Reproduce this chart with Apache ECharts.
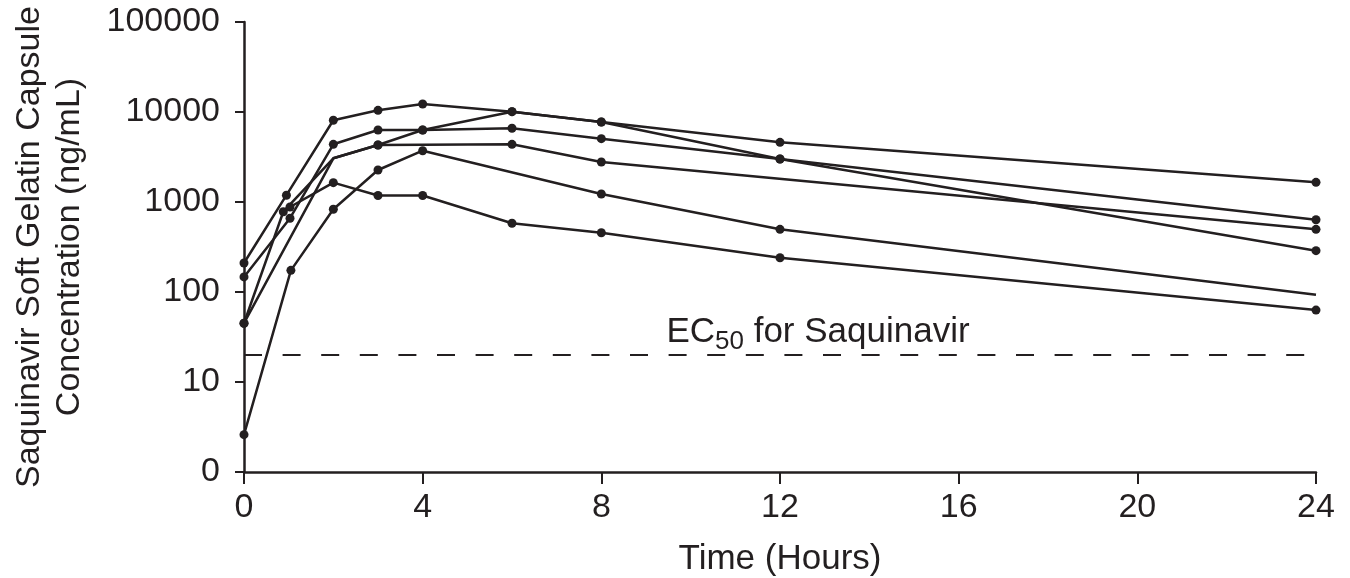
<!DOCTYPE html>
<html>
<head>
<meta charset="utf-8">
<script src="https://cdn.jsdelivr.net/npm/echarts@6/dist/echarts.min.js"></script>
<style>
  html, body { margin: 0; padding: 0; background: #fff; }
  #chart_main { width: 1350px; height: 578px; }
</style>
</head>
<body>
<div id="chart_main"></div>
<script>
// sampling times (hours) and concentrations (ng/mL) per subject
let subjA_t = [0, 0.95, 2, 3, 4, 6, 8, 12, 24];
let subjA_c = [210, 1190, 8090, 10440, 12270, 10080, 7740, 4605, 1655];
let subjB_t = [0, 2, 3, 4, 6, 8, 12, 24];
let subjB_c = [45, 3060, 4300, 6310, 10080, 7740, 3005, 288];
let subjC_t = [0, 1.03, 2, 3, 4, 6, 8, 12, 24];
let subjC_c = [147, 660, 4375, 6310, 6310, 6590, 5055, 3005, 635];
let subjD_t = [0, 0.88, 2, 3, 6, 8, 24];
let subjD_c = [45, 780, 3060, 4300, 4375, 2783, 497];
let subjE_t = [0, 1.05, 2, 3, 4, 8, 12, 24];
let subjE_c = [2.6, 174, 830, 2268, 3715, 1227, 497, 93];
let subjF_t = [1.03, 2, 3, 4, 6, 8, 12, 24];
let subjF_c = [880, 1640, 1180, 1180, 580, 456, 240, 63];

// points drawn as line corners only (no dot)
let hideB = [1];
let hideD = [2];
let hideE = [7];

let ec50 = 20;
let xTicks = [0, 4, 8, 12, 16, 20, 24];

let ink = '#231f20';
let font = 'Liberation Sans, Arial, sans-serif';

function makeSerie(name, t, c, hide) {
  let pts = [];
  for (let i = 0; i < t.length; i++) {
    let item = { value: [t[i], c[i]] };
    if (hide && hide.indexOf(i) > -1) {
      item.symbol = 'none';
    }
    pts.push(item);
  }
  return {
    name: name,
    type: 'line',
    data: pts,
    symbol: 'circle',
    symbolSize: 9,
    showAllSymbol: true,
    lineStyle: { color: ink, width: 2.5 },
    itemStyle: { color: ink },
    z: 3
  };
}

let series = [
  makeSerie('A', subjA_t, subjA_c),
  makeSerie('B', subjB_t, subjB_c, hideB),
  makeSerie('C', subjC_t, subjC_c),
  makeSerie('D', subjD_t, subjD_c, hideD),
  makeSerie('E', subjE_t, subjE_c, hideE),
  makeSerie('F', subjF_t, subjF_c)
];

// EC50 reference line
series.push({
  name: 'EC50',
  type: 'line',
  data: [],
  markLine: {
    silent: true,
    symbol: 'none',
    lineStyle: { color: ink, width: 2, type: [18, 20.6] },
    label: {
      show: true,
      position: 'insideMiddleTop',
      distance: 0,
      formatter: '{m|EC}{s|50}{m| for Saquinavir}',
      rich: {
        m: { fontSize: 35, color: ink, fontFamily: font },
        s: { fontSize: 26, color: ink, fontFamily: font, verticalAlign: 'bottom', padding: [20, 0, 0, 0] }
      },
      offset: [38, 0]
    },
    data: [[{ coord: [xTicks[0], ec50] }, { coord: [xTicks[xTicks.length - 1], ec50] }]]
  }
});

let myChart = echarts.init(document.getElementById('chart_main'));

let option = {
  animation: false,
  backgroundColor: '#fff',
  textStyle: { fontFamily: font, color: ink },
  grid: { left: 244, right: 34, top: 22, bottom: 106, containLabel: false, outerBoundsMode: 'none' },
  xAxis: {
    type: 'value',
    min: xTicks[0],
    max: xTicks[xTicks.length - 1],
    interval: 4,
    name: 'Time (Hours)',
    nameLocation: 'middle',
    nameGap: 70,
    nameTextStyle: { fontSize: 35, color: ink },
    axisLine: { lineStyle: { color: ink, width: 2.5 } },
    axisTick: { show: true, length: 12, lineStyle: { color: ink, width: 2 } },
    axisLabel: { fontSize: 34, color: ink, margin: 19 },
    splitLine: { show: false }
  },
  yAxis: {
    type: 'log',
    logBase: 10,
    min: 1,
    max: 100000,
    name: 'Saquinavir Soft Gelatin Capsule\nConcentration (ng/mL)',
    nameLocation: 'middle',
    nameRotate: 90,
    nameGap: 154,
    nameTextStyle: { fontSize: 34, color: ink, lineHeight: 40, align: 'center' },
    axisLine: { lineStyle: { color: ink, width: 2.5 } },
    axisTick: { show: true, length: 9, lineStyle: { color: ink, width: 2 } },
    axisLabel: {
      fontSize: 34,
      color: ink,
      margin: 24,
      formatter: function (v) { return v === 1 ? '0' : String(v); }
    },
    splitLine: { show: false }
  },
  series: series
};

myChart.setOption(option);
</script>
</body>
</html>
